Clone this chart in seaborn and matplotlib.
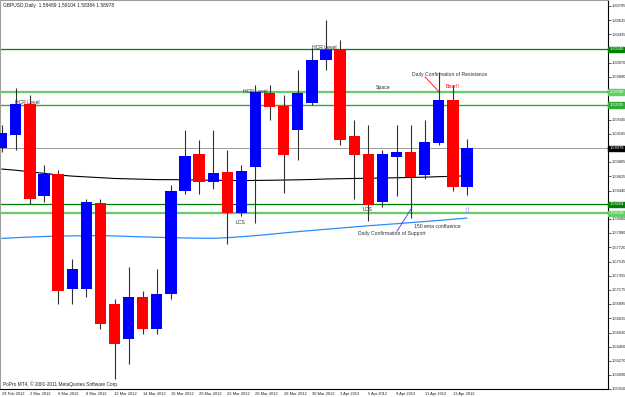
import matplotlib
matplotlib.use("Agg")
import matplotlib.pyplot as plt
import matplotlib.transforms as mtransforms
import numpy as np
import pandas as pd
import seaborn as sns

# ---------------- data ----------------
dates = ["29 Feb", "1 Mar", "2 Mar", "5 Mar", "6 Mar", "7 Mar", "8 Mar", "9 Mar",
         "12 Mar", "13 Mar", "14 Mar", "15 Mar", "16 Mar", "19 Mar", "20 Mar", "21 Mar",
         "22 Mar", "23 Mar", "26 Mar", "27 Mar", "28 Mar", "29 Mar", "30 Mar", "2 Apr",
         "3 Apr", "4 Apr", "5 Apr", "6 Apr", "9 Apr", "10 Apr", "11 Apr", "12 Apr",
         "13 Apr", "16 Apr"]
opens = [1.58989, 1.59154, 1.59548, 1.58366, 1.58645, 1.57183, 1.57183, 1.58276,
         1.56992, 1.56547, 1.57081, 1.56674, 1.57119, 1.58429, 1.58900, 1.58556,
         1.58671, 1.58149, 1.58747, 1.59688, 1.59510, 1.59218, 1.59561, 1.60108,
         1.60235, 1.59129, 1.58900, 1.58289, 1.58874, 1.58925, 1.58645, 1.59052,
         1.59599, 1.58489]
highs = [1.59281, 1.59752, 1.59663, 1.58773, 1.58709, 1.57564, 1.58327, 1.58327,
         1.57055, 1.57462, 1.57157, 1.57437, 1.58518, 1.59218, 1.59091, 1.59218,
         1.58963, 1.58773, 1.59790, 1.59790, 1.59663, 1.59981, 1.60261, 1.60617,
         1.60363, 1.59345, 1.59281, 1.58963, 1.59281, 1.59281, 1.59345, 1.59955,
         1.59790, 1.59104]
lows = [1.58938, 1.58963, 1.58264, 1.58289, 1.56992, 1.56992, 1.57081, 1.56674,
        1.56038, 1.56229, 1.56610, 1.56610, 1.57055, 1.58391, 1.58391, 1.58455,
        1.57755, 1.58111, 1.58022, 1.59345, 1.58416, 1.58836, 1.59536, 1.59981,
        1.59027, 1.58327, 1.58047, 1.58226, 1.58366, 1.58085, 1.58582, 1.59027,
        1.58429, 1.58384]
closes = [1.59167, 1.59548, 1.58327, 1.58645, 1.57157, 1.57437, 1.58289, 1.56737,
          1.56483, 1.57081, 1.56674, 1.57119, 1.58429, 1.58874, 1.58544, 1.58658,
          1.58149, 1.58683, 1.59701, 1.59510, 1.58900, 1.59688, 1.60108, 1.60235,
          1.59091, 1.58900, 1.58251, 1.58900, 1.58925, 1.58620, 1.59052, 1.59599,
          1.58480, 1.58978]
ma_black = [1.58715, 1.58700, 1.58680, 1.58660, 1.58640, 1.58625, 1.58615, 1.58605,
            1.58595, 1.58590, 1.58585, 1.58580, 1.58580, 1.58578, 1.58575, 1.58572,
            1.58570, 1.58568, 1.58570, 1.58572, 1.58575, 1.58578, 1.58582, 1.58588,
            1.58592, 1.58595, 1.58598, 1.58600, 1.58604, 1.58608, 1.58612, 1.58618,
            1.58622, 1.58630]
ema150 = [1.57830, 1.57840, 1.57848, 1.57855, 1.57860, 1.57863, 1.57865, 1.57866,
          1.57862, 1.57856, 1.57850, 1.57845, 1.57840, 1.57836, 1.57833, 1.57832,
          1.57840, 1.57852, 1.57866, 1.57882, 1.57900, 1.57917, 1.57932, 1.57947,
          1.57962, 1.57977, 1.57992, 1.58005, 1.58018, 1.58032, 1.58046, 1.58060,
          1.58075, 1.58090]
date_labels = ["29 Feb 2012", "2 Mar 2012", "6 Mar 2012", "8 Mar 2012", "12 Mar 2012",
               "14 Mar 2012", "16 Mar 2012", "20 Mar 2012", "22 Mar 2012", "26 Mar 2012",
               "28 Mar 2012", "30 Mar 2012", "3 Apr 2012", "5 Apr 2012", "9 Apr 2012",
               "11 Apr 2012", "13 Apr 2012"]
price_ticks = [1.60795, 1.60615, 1.60435, 1.60070, 1.59890, 1.59345, 1.59165,
               1.58805, 1.58625, 1.58440, 1.58080, 1.57900, 1.57720, 1.57535,
               1.57355, 1.57175, 1.56995, 1.56815, 1.56630, 1.56450, 1.56270,
               1.56090, 1.55910]
level_prices = [1.60240, 1.59700, 1.59535, 1.58264, 1.58149]
level_colors = ["#008000", "#66cc66", "#33aa33", "#008000", "#66cc66"]
level_widths = [0.9, 1.6, 1.0, 0.9, 1.6]
last_close = 1.58978
title_text = "GBPUSD,Daily  1.58489 1.59104 1.58384 1.58978"
copyright_text = "PoPro MT4, \u00a9 2001-2011 MetaQuotes Software Corp."

# ---------------- figure ----------------
sns.set_style("white")
plt.rcParams["font.family"] = ["Liberation Sans", "DejaVu Sans"]

W, H = 625, 397
fig = plt.figure(figsize=(W / 100, H / 100), dpi=100)
ax = fig.add_axes([0, 8 / H, 608 / W, (H - 8) / H])

n = len(dates)
idx = np.arange(n)
step = 14.1
x0 = 1.7
ax.set_xlim(-x0 / step, (608 - x0) / step)
ax.set_ylim(1.55920, 1.60871)

# level lines
for p, c, lw in zip(level_prices, level_colors, level_widths):
    ax.axhline(p, color=c, lw=lw, zorder=1)
ax.axhline(last_close, color="#9a9a9a", lw=0.7, zorder=1)

# moving averages via seaborn
df = pd.DataFrame({"i": idx, "ma": ma_black, "ema": ema150})
sns.lineplot(data=df, x="i", y="ma", ax=ax, color="#000000", lw=0.8, zorder=2)
sns.lineplot(data=df, x="i", y="ema", ax=ax, color="#2b8cff", lw=0.9, zorder=2)

# candles
o = np.array(opens); c = np.array(closes)
h = np.array(highs); l = np.array(lows)
up = c >= o
cols = np.where(up, "#0000ff", "#ff0000")
ax.vlines(idx, l, h, color="#303030", lw=0.8, zorder=3)
ax.bar(idx, np.abs(c - o) + 0.00003, bottom=np.minimum(o, c), width=0.8,
       color=cols, edgecolor="none", zorder=4)

# axes cosmetics
ax.set_xlabel(""); ax.set_ylabel("")
for s in ["left", "top"]:
    ax.spines[s].set_color("#a0a0a0"); ax.spines[s].set_linewidth(0.8)
for s in ["right", "bottom"]:
    ax.spines[s].set_color("#000000"); ax.spines[s].set_linewidth(0.8)
ax.yaxis.tick_right()
ax.set_yticks(price_ticks)
ax.set_yticklabels([f"{v:.5f}" for v in price_ticks])
ax.tick_params(axis="y", labelsize=2.9, length=2, width=0.5, pad=0.8, colors="#202020")
ax.set_xticks(idx[::2])
ax.set_xticklabels(date_labels)
ax.tick_params(axis="x", labelsize=2.9, length=2, width=0.5, pad=0.5, colors="#202020")
for lab in ax.get_xticklabels():
    lab.set_horizontalalignment("left")

# price boxes on right axis
trans = mtransforms.blended_transform_factory(ax.transAxes, ax.transData)
for p, col in zip(level_prices, level_colors):
    ax.text(1.002, p, f"{p:.5f}", transform=trans, fontsize=2.9, color="white",
            va="center", ha="left", clip_on=False,
            bbox=dict(boxstyle="square,pad=0.2", fc=col, ec=col), zorder=6)
ax.text(1.002, last_close, f"{last_close:.5f}", transform=trans, fontsize=2.9,
        color="white", va="center", ha="left", clip_on=False,
        bbox=dict(boxstyle="square,pad=0.2", fc="#000000", ec="#000000"), zorder=6)

# annotations
fs = 3.7
gray = "#303030"
ax.text(0.94, 1.59561, "HCR Level", fontsize=fs, color=gray, va="center", ha="left", zorder=5)
ax.text(17.1, 1.59701, "HCR Level", fontsize=fs, color=gray, va="center", ha="left", zorder=5)
ax.text(22.0, 1.60261, "HCR Level", fontsize=fs, color=gray, va="center", ha="left", zorder=5)
ax.text(26.5, 1.59752, "Space", fontsize=fs, color=gray, va="center", ha="left", zorder=5)
ax.text(29.1, 1.59917, "Daily Confirmation of Resistance", fontsize=fs, color=gray,
        va="center", ha="left", zorder=5)
ax.plot([30.02, 31.01], [1.59892, 1.59701], color="#ff0000", lw=0.6, zorder=5)
ax.text(31.5, 1.59765, "Bear!!", fontsize=fs, color="#ff0000", va="center", ha="left", zorder=5)
ax.text(16.62, 1.58035, "LCS", fontsize=fs, color=gray, va="center", ha="left", zorder=5)
ax.text(25.6, 1.58200, "LCS", fontsize=fs, color=gray, va="center", ha="left", zorder=5)
ax.text(29.24, 1.57984, "150 ema confluence", fontsize=fs, color=gray, va="center",
        ha="left", zorder=5)
ax.text(25.27, 1.57895, "Daily Confirmation of Support", fontsize=fs, color=gray,
        va="center", ha="left", zorder=5)
ax.plot([28.03, 29.1], [1.57920, 1.58226], color="#2040ff", lw=0.6, zorder=5)
ax.text(33.0, 1.58190, "\u21e7", fontsize=6, color="#8080ff", va="center", ha="center",
        family=["DejaVu Sans"], zorder=5)

ax.text(3 / 608, 1 - 5 / 389, title_text, transform=ax.transAxes, fontsize=3.5,
        color="#202020", va="center", ha="left")
ax.text(3 / 608, 5 / 389, copyright_text, transform=ax.transAxes, fontsize=3.4,
        color="#202020", va="center", ha="left")

fig.savefig("out.png", dpi=100, facecolor="white")
